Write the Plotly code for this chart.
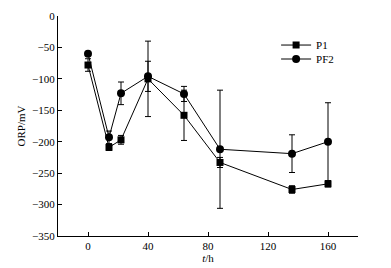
import plotly.graph_objects as go

t_p1 = [0, 14, 22, 40, 64, 88, 136, 160]
orp_p1 = [-78, -209, -197, -100, -158, -233, -276, -267]
err_p1 = [10, 5, 7, 60, 40, 8, 6, 5]

t_pf2 = [0, 14, 22, 40, 64, 88, 136, 160]
orp_pf2 = [-60, -193, -123, -96, -124, -212, -219, -200]
err_pf2 = [3, 10, 18, 24, 12, 94, 30, 62]

x_ticks = [0, 40, 80, 120, 160]
y_ticks = [0, -50, -100, -150, -200, -250, -300, -350]
y_tick_text = ["0" if v == 0 else "\u2212" + str(-v) for v in y_ticks]

font = dict(family="Liberation Serif, Times New Roman, serif", size=11, color="black")

fig = go.Figure()
fig.add_trace(go.Scatter(
    x=t_p1, y=orp_p1, name="P1", mode="lines+markers", legend="legend",
    line=dict(color="black", width=1),
    marker=dict(symbol="square", size=7, color="black"),
    error_y=dict(type="data", array=err_p1, color="black", thickness=1, width=3),
))
fig.add_trace(go.Scatter(
    x=t_pf2, y=orp_pf2, name="PF2", mode="lines+markers", legend="legend2",
    line=dict(color="black", width=1),
    marker=dict(symbol="circle", size=8, color="black"),
    error_y=dict(type="data", array=err_pf2, color="black", thickness=1, width=3),
))

leg_common = dict(xanchor="left", yanchor="middle", bgcolor="rgba(0,0,0,0)",
                  font=font, itemwidth=30)

fig.update_layout(
    width=391, height=268,
    margin=dict(l=58, r=33, t=16, b=32),
    paper_bgcolor="white", plot_bgcolor="white",
    font=font,
    showlegend=True,
    legend=dict(x=0.727, y=0.868, **leg_common),
    legend2=dict(x=0.727, y=0.8045, **leg_common),
    xaxis=dict(range=[-20, 180], tickvals=x_ticks, showgrid=False, zeroline=False,
               showline=True, linecolor="black", linewidth=1, automargin=False,
               ticks="inside", ticklen=4, tickcolor="black",
               title=dict(text="<i>t</i>/h", standoff=3, font=font)),
    yaxis=dict(range=[-350, 0], tickvals=y_ticks, ticktext=y_tick_text,
               showgrid=False, zeroline=False, automargin=False,
               showline=True, linecolor="black", linewidth=1,
               ticks="inside", ticklen=4, tickcolor="black",
               title=dict(text="ORP/mV", standoff=4, font=font)),
)

fig.write_html("out.html", config={"displayModeBar": False},
               post_script="document.body.style.margin='0';")
